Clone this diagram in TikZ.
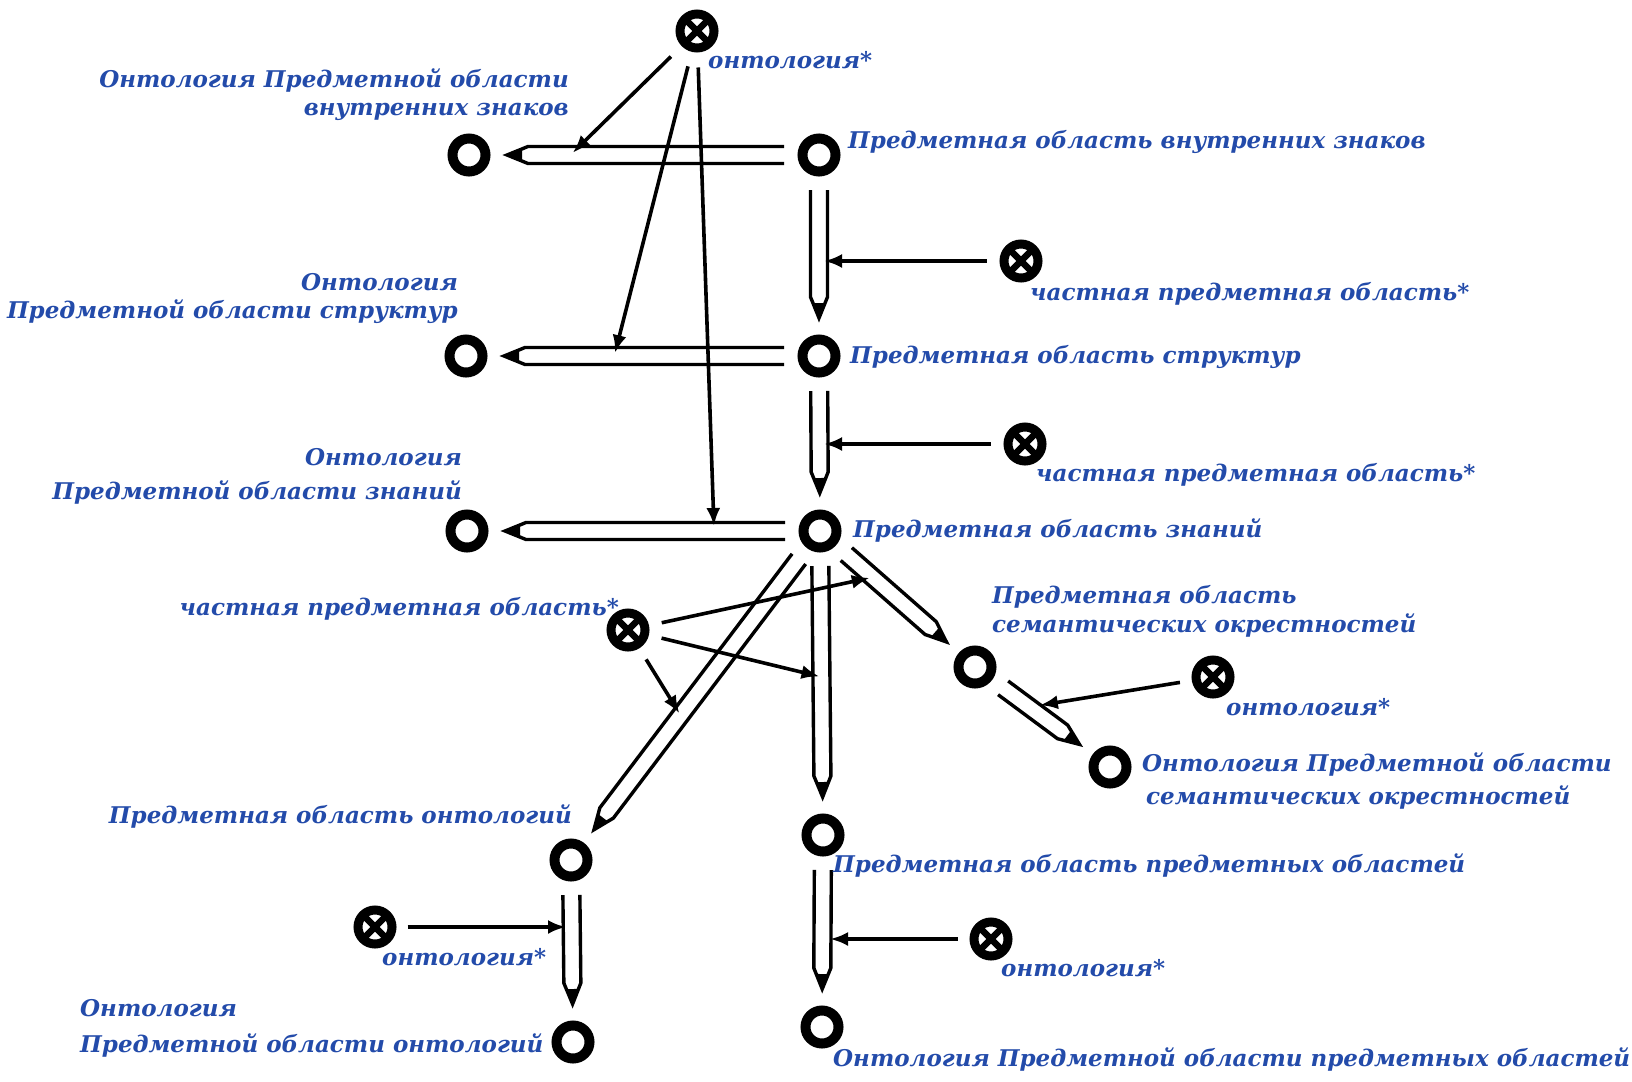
\documentclass[tikz,border=0pt]{standalone}
\usepackage{fontspec}
\setmainfont{DejaVu Serif}
\usetikzlibrary{calc,arrows.meta}
\definecolor{labelblue}{RGB}{35,75,170}
\tikzset{
  ring/.style={circle, draw, line width=10pt, minimum size=33pt, inner sep=0pt},
  otimes/.style={circle, draw, line width=9pt, minimum size=34pt, inner sep=0pt,
    path picture={\draw[line width=6.5pt]
      (path picture bounding box.south west) -- (path picture bounding box.north east)
      (path picture bounding box.north west) -- (path picture bounding box.south east);}},
  lbl/.style={text=labelblue, font=\fontsize{23}{28}\selectfont\bfseries\itshape, inner sep=0pt},
  link/.style={line width=3.6pt, -{Latex[length=18pt,width=14pt]}},
  pencilbody/.style={draw, fill=white, line width=3.4pt, line join=miter},
}
% hollow "pencil" arrow from node #1 to node #2
\newcommand\drawpencil[2]{%
  \coordinate (pA) at ($(#1)!35pt!(#2)$);
  \coordinate (pB) at ($(#2)!38pt!(#1)$);
  \coordinate (pM) at ($(pB)!21pt!(pA)$);
  \coordinate (pK) at ($(pB)!15pt!(pA)$);
  \filldraw[pencilbody] ($(pA)!8.5pt!90:(pB)$) -- ($(pM)!8.5pt!90:(pB)$) -- (pB)
    -- ($(pM)!8.5pt!-90:(pB)$) -- ($(pA)!8.5pt!-90:(pB)$);
  \fill ($(pK)!6.1pt!90:(pB)$) -- (pB) -- ($(pK)!6.1pt!-90:(pB)$) -- cycle;
}
\begin{document}
\begin{tikzpicture}[x=1pt,y=-1pt]
\useasboundingbox[fill=white] (0,0) rectangle (1632,1081);

% vertices
\node[otimes] (T) at (697,31) {};
\node[ring] (O1) at (469,155) {};
\node[ring] (P1) at (819,155) {};
\node[ring] (O2) at (466,356) {};
\node[ring] (P2) at (819,356) {};
\node[ring] (O3) at (467,531) {};
\node[ring] (P3) at (820,531) {};
\node[otimes] (X1) at (1021,261) {};
\node[otimes] (X2) at (1025,444) {};
\node[otimes] (X3) at (628,630) {};
\node[ring] (S) at (975,667) {};
\node[otimes] (X4) at (1213,677) {};
\node[ring] (SO) at (1110,767) {};
\node[ring] (PO) at (571,860) {};
\node[ring] (PP) at (823,835) {};
\node[otimes] (X5) at (375,927) {};
\node[otimes] (X6) at (991,939) {};
\node[ring] (OO) at (573,1042) {};
\node[ring] (OP) at (822,1027) {};

% pencil arrows
\drawpencil{P1}{O1}
\drawpencil{P2}{O2}
\drawpencil{P3}{O3}
\drawpencil{P1}{P2}
\drawpencil{P2}{P3}
\drawpencil{P3}{PO}
\drawpencil{P3}{PP}
\drawpencil{P3}{S}
\drawpencil{S}{SO}
\drawpencil{PO}{OO}
\drawpencil{PP}{OP}

% plain arrows onto the pencils
\draw[link, shorten <=15pt, shorten >=3pt] (T) -- ($(P1)!0.71!(O1)$);
\draw[link, shorten <=15pt, shorten >=3pt] (T) -- ($(P2)!0.58!(O2)$);
\draw[link, shorten <=15pt, shorten >=5pt] (T) -- ($(P3)!0.30!(O3)$);
\draw[link, shorten <=13pt, shorten >=5pt] (X1) -- (X1 -| P1);
\draw[link, shorten <=13pt, shorten >=5pt] (X2) -- (X2 -| P2);
\draw[link, shorten <=13pt, shorten >=3pt] (X3) -- ($(P3)!0.34!(S)$);
\draw[link, shorten <=13pt, shorten >=2pt] (X3) -- ($(P3)!0.48!(PP)$);
\draw[link, shorten <=13pt, shorten >=2pt] (X3) -- ($(P3)!0.56!(PO)$);
\draw[link, shorten <=12pt, shorten >=11pt] (X4) -- ($(S)!0.40!(SO)$);
\draw[link, shorten <=11pt, shorten >=5pt] (X5) -- (X5 -| PO);
\draw[link, shorten <=12pt, shorten >=7pt] (X6) -- (X6 -| PP);

% labels (multi-line nodes are anchored at the baseline of their last line)
\node[lbl, anchor=base west] (tT) at (708,68) {онтология*};
\node[lbl, align=right, anchor=base east] (tO1) at (569,115) {Онтология Предметной области\\внутренних знаков};
\node[lbl, anchor=base west] (tP1) at (848,148.5) {Предметная область внутренних знаков};
\node[lbl, anchor=base west] (tX1) at (1030,300.5) {частная предметная область*};
\node[lbl, align=right, anchor=base east] (tO2) at (458,318) {Онтология\\Предметной области структур};
\node[lbl, anchor=base west] (tP2) at (850,363) {Предметная область структур};
\node[lbl, anchor=base west] (tX2) at (1036,481.5) {частная предметная область*};
\node[lbl, align=right, anchor=base east] (tO3) at (462,499) {Онтология\\[6pt]Предметной области знаний};
\node[lbl, anchor=base west] (tP3) at (853,537) {Предметная область знаний};
\node[lbl, anchor=base east] (tX3) at (619,615) {частная предметная область*};
\node[lbl, align=left, anchor=base west] (tS) at (992,632.5) {Предметная область\\[1pt]семантических окрестностей};
\node[lbl, anchor=base west] (tX4) at (1226,715.5) {онтология*};
\node[lbl, align=left, anchor=base west] (tSO) at (1142,804) {Онтология Предметной области\\[5pt]\hspace*{4pt}семантических окрестностей};
\node[lbl, anchor=base east] (tPO) at (572,823) {Предметная область онтологий};
\node[lbl, anchor=base west] (tPP) at (833,872) {Предметная область предметных областей};
\node[lbl, anchor=base west] (tX5) at (382,965) {онтология*};
\node[lbl, anchor=base west] (tX6) at (1001,976) {онтология*};
\node[lbl, align=left, anchor=base west] (tOO) at (80,1052) {Онтология\\[8pt]Предметной области онтологий};
\node[lbl, anchor=base west] (tOP) at (833,1066.5) {Онтология Предметной области предметных областей};
\end{tikzpicture}
\end{document}
